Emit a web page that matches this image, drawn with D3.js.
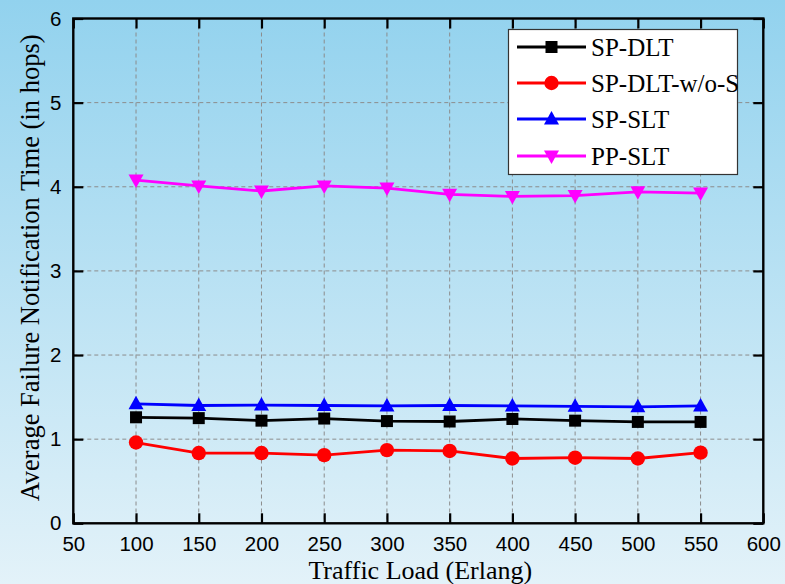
<!DOCTYPE html>
<html><head><meta charset="utf-8">
<script src="https://cdn.jsdelivr.net/npm/d3@7"></script>
<style>html,body{margin:0;padding:0;overflow:hidden}svg{display:block}</style>
</head><body>
<script>
const loads = [100,150,200,250,300,350,400,450,500,550];
const spDLT = [1.26,1.25,1.22,1.245,1.215,1.21,1.24,1.22,1.205,1.205];
const spDLTwoS = [0.96,0.835,0.835,0.81,0.87,0.86,0.77,0.78,0.77,0.84];
const spSLT = [1.42,1.40,1.405,1.40,1.395,1.40,1.395,1.39,1.385,1.395];
const ppSLT = [4.08,4.01,3.95,4.01,3.985,3.91,3.885,3.895,3.94,3.925];
const seriesNames = ["SP-DLT","SP-DLT-w/o-S","SP-SLT","PP-SLT"];
const seriesColors = ["#000000","#ff0000","#0000ff","#ff00ff"];
const seriesShapes = ["square","circle","up","down"];
const xTicks = [50,100,150,200,250,300,350,400,450,500,550,600];
const yTicks = [0,1,2,3,4,5,6];

const W=785,H=584;
const L=73.3,R=763.3,T=18.5,B=523.3;
const svg=d3.select("body").append("svg").attr("width",W).attr("height",H);
const defs=svg.append("defs");
const g=defs.append("linearGradient").attr("id","bg").attr("x1",0).attr("y1",0).attr("x2",0).attr("y2",1);
g.append("stop").attr("offset","0%").attr("stop-color","#92d2ee");
g.append("stop").attr("offset","100%").attr("stop-color","#e3f2f9");
svg.append("rect").attr("width",W).attr("height",H).attr("fill","url(#bg)");

const x=d3.scaleLinear().domain([50,600]).range([L,R]);
const y=d3.scaleLinear().domain([0,6]).range([B,T]);

// grid
const grid=svg.append("g").attr("stroke","#8c8c8c").attr("stroke-width",1).attr("stroke-dasharray","4,3");
xTicks.filter(v=>v>50&&v<600).forEach(v=>grid.append("line").attr("x1",x(v)).attr("x2",x(v)).attr("y1",T).attr("y2",B));
yTicks.filter(v=>v>0&&v<6).forEach(v=>grid.append("line").attr("x1",L).attr("x2",R).attr("y1",y(v)).attr("y2",y(v)));

// axes with inward ticks
const tl=10;
const xb=svg.append("g").attr("transform",`translate(0,${B})`).call(d3.axisBottom(x).tickValues(xTicks).tickSizeInner(-tl).tickSizeOuter(0).tickPadding(13).tickFormat(d3.format("d")));
const xt=svg.append("g").attr("transform",`translate(0,${T})`).call(d3.axisTop(x).tickValues(xTicks).tickSizeInner(-tl).tickSizeOuter(0).tickFormat(""));
const yl=svg.append("g").attr("transform",`translate(${L},0)`).call(d3.axisLeft(y).tickValues(yTicks).tickSizeInner(-tl).tickSizeOuter(0).tickPadding(12).tickFormat(d3.format("d")));
const yr=svg.append("g").attr("transform",`translate(${R},0)`).call(d3.axisRight(y).tickValues(yTicks).tickSizeInner(-tl).tickSizeOuter(0).tickFormat(""));
[xb,xt,yl,yr].forEach(a=>{a.select(".domain").remove();a.selectAll("line").attr("stroke","#000").attr("stroke-width",2.2);
 a.selectAll("text").attr("font-family","'Liberation Sans',Arial,sans-serif").attr("font-size",20.5).attr("fill","#000");});
svg.append("rect").attr("x",L).attr("y",T).attr("width",R-L).attr("height",B-T).attr("fill","none").attr("stroke","#000").attr("stroke-width",2.4);

// series
const allData=[spDLT,spDLTwoS,spSLT,ppSLT];
function marker(sel,shape,color,cx,cy){
  if(shape==="square") sel.append("rect").attr("x",cx-6).attr("y",cy-6).attr("width",12).attr("height",12).attr("fill",color);
  else if(shape==="circle") sel.append("circle").attr("cx",cx).attr("cy",cy).attr("r",7.2).attr("fill",color);
  else if(shape==="up") sel.append("path").attr("d",`M${cx},${cy-8}L${cx+7.5},${cy+5.5}L${cx-7.5},${cy+5.5}Z`).attr("fill",color);
  else sel.append("path").attr("d",`M${cx},${cy+8}L${cx+7.5},${cy-5.5}L${cx-7.5},${cy-5.5}Z`).attr("fill",color);
}
const line=d3.line().x((d,i)=>x(loads[i])).y(d=>y(d));
allData.forEach((data,k)=>{
  const sg=svg.append("g");
  sg.append("path").datum(data).attr("d",line).attr("fill","none").attr("stroke",seriesColors[k]).attr("stroke-width",2.8);
  data.forEach((v,i)=>marker(sg,seriesShapes[k],seriesColors[k],x(loads[i]),y(v)));
});

// legend
const lg=svg.append("g");
lg.append("rect").attr("x",508.5).attr("y",29.5).attr("width",229).attr("height",145).attr("fill","#fff").attr("stroke","#333").attr("stroke-width",1.2);
const rowsY=[47,83,119,156];
seriesNames.forEach((n,k)=>{
  lg.append("line").attr("x1",517).attr("x2",586).attr("y1",rowsY[k]).attr("y2",rowsY[k]).attr("stroke",seriesColors[k]).attr("stroke-width",2.8);
  marker(lg,seriesShapes[k],seriesColors[k],551.5,rowsY[k]);
  lg.append("text").attr("x",591).attr("y",rowsY[k]+8.5).text(n).attr("font-family","'Liberation Serif','Times New Roman',serif").attr("font-size",25).attr("fill","#000");
});

// axis titles
svg.append("text").attr("x",(L+R)/2+2).attr("y",579).attr("text-anchor","middle").attr("font-family","'Liberation Serif','Times New Roman',serif").attr("font-size",26).attr("fill","#000").text("Traffic Load (Erlang)");
svg.append("text").attr("transform",`translate(39,${(T+B)/2-3}) rotate(-90)`).attr("text-anchor","middle").attr("font-family","'Liberation Serif','Times New Roman',serif").attr("font-size",26.5).attr("fill","#000").text("Average Failure Notification Time (in hops)");
</script>
</body></html>
